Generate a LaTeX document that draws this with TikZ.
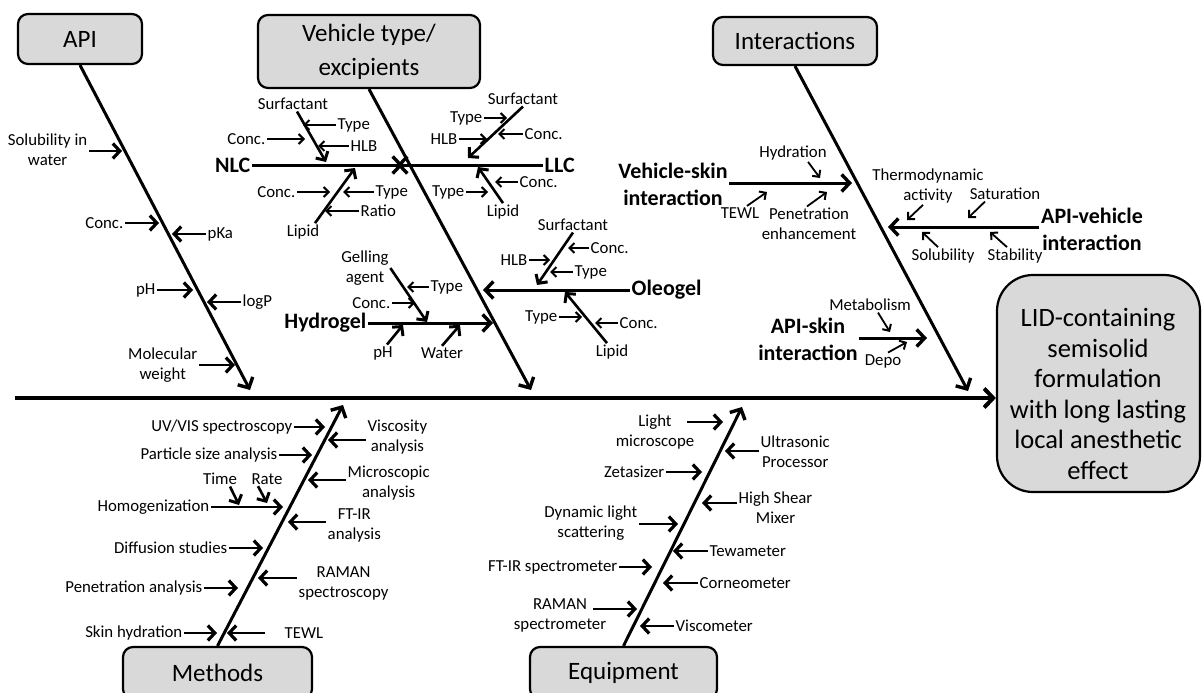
\documentclass[tikz,border=0pt]{standalone}
\usepackage{fontspec}
\setmainfont{Carlito}
\usetikzlibrary{arrows.meta}
\definecolor{boxgray}{RGB}{217,217,217}
\tikzset{
  box/.style={draw,line width=2.2pt,fill=boxgray,rounded corners=10pt,align=center,font=\fontsize{25}{30}\selectfont},
  lab/.style={inner sep=1.5pt,align=center,font=\fontsize{16.8}{20}\selectfont},
  blab/.style={inner sep=1.5pt,align=center,font=\fontsize{22}{27}\selectfont\bfseries},
  spine/.style={line width=4pt,-{Straight Barb[length=9pt,width=19pt,line width=4pt]}},
  bone/.style={line width=3pt,-{Straight Barb[length=8pt,width=17pt,line width=3.4pt]}},
  sbone/.style={line width=2.6pt,-{Straight Barb[length=6.5pt,width=14pt,line width=3pt]}},
  sarr/.style={line width=2.8pt,-{Straight Barb[length=7pt,width=15pt,line width=3.2pt]}},
  tarr/.style={line width=1.8pt,-{Straight Barb[length=5pt,width=10pt,line width=2pt]}},
}
\begin{document}
\begin{tikzpicture}[x=1pt,y=-1pt]
  \useasboundingbox (0,0) rectangle (1203,693);
  \clip (0,0) rectangle (1203,693);
  \node[box,minimum width=124pt,minimum height=50pt] (api) at (80,39) {API};
  \node[box,minimum width=222pt,minimum height=73pt,font=\fontsize{25}{34}\selectfont] (veh) at (369,51.5) {Vehicle type/\\excipients};
  \node[box,minimum width=164pt,minimum height=48pt] (inter) at (795,41) {Interactions};
  \node[box,minimum width=189pt,minimum height=52pt] (meth) at (217.5,673) {Methods};
  \node[box,minimum width=187pt,minimum height=52pt] (equip) at (623.5,673) {Equipment};
  \node[box,minimum width=203pt,minimum height=217pt,rounded corners=36pt] (lid) at (1098.5,383.5) {};
  \node[font=\fontsize{26.5}{30.5}\selectfont,align=center] (lidt) at (1098,394) {LID-containing\\semisolid\\formulation\\with long lasting\\local anesthetic\\effect};
  \coordinate (s0) at (15,398);
  \draw[spine] (s0) -- (s0 -| lid.west);
  \coordinate (apiE) at (250,390);
  \coordinate (vehE) at (531,390);
  \coordinate (intE) at (968,391);
  \coordinate (methE) at (343,405);
  \coordinate (equipE) at (742,407);
  \draw[bone] (api.south) -- (apiE);
  \draw[bone] (veh.south) -- (vehE);
  \draw[bone] (inter.south) -- (intE);
  \draw[bone] (meth.north) -- (methE);
  \draw[bone] (equip.north) -- (equipE);

  \node[blab,anchor=east] (nlc) at (252,165) {NLC};
  \node[blab,anchor=west] (llc) at (543,165) {LLC};
  \coordinate (vx) at (400,165);
  \draw[bone] (nlc.east) -- ([xshift=3pt]vx);
  \draw[bone] (llc.west) -- ([xshift=-3pt]vx);
  \node[blab,anchor=east] (hyg) at (368,323) {Hydrogel};
  \draw[bone] (hyg.east) -- (493,323);
  \node[blab,anchor=west] (ole) at (630,290) {Oleogel};
  \draw[bone] (ole.west) -- (483,290);

  \node[lab] (nsurf) at (293,104) {Surfactant};
  \draw[sbone] ([xshift=4pt]nsurf.south) -- (326,162);
  \node[lab] (nlip) at (303,232) {Lipid};
  \draw[sbone] ([xshift=12pt]nlip.north) -- (355,168);
  \node[lab] (lsurf) at (523,99) {Surfactant};
  \draw[sbone] (lsurf.south) -- (468,158);
  \node[lab] (llip) at (503,212) {Lipid};
  \draw[sbone] (llip.north) -- (478,167);
  \node[lab] (gel) at (365,268) {Gelling\\agent};
  \draw[sbone] (gel.east) -- (427,322);
  \node[lab] (hph) at (383,353) {pH};
  \draw[sbone] ([xshift=4pt]hph.north) -- (403,325);
  \node[lab] (hwat) at (442,353) {Water};
  \draw[sbone] (hwat.north) -- (460,325);
  \node[lab] (osurf) at (573,225) {Surfactant};
  \draw[sbone] (osurf.south) -- (537,285);
  \node[lab] (olip) at (612,352) {Lipid};
  \draw[sbone] ([xshift=-5pt]olip.north) -- (565,292);

  \foreach \n/\x/\y/\lb/\e in {nsc/267/139/Conc./305, nlcc/297/192/Conc./330, lst/484/118/Type/507,
      lsh/459/139/HLB/487, llt/466/192/Type/488, hgc/392/303/Conc./415, osh/529/260/HLB/550, olt/559/317/Type/582}
  {\node[lab,anchor=east] (\n) at (\x,\y) {\lb};
   \draw[tarr] (\n.east) -- (\e,\y);}
  \foreach \n/\x/\y/\lb/\e in {nst/336/125/Type/303, nsh/349/146/HLB/318, nlt/374/192/Type/343, nlr/359/211/Ratio/325,
      lsc/523/134/Conc./498, llcc/518/182/Conc./495, hgt/429/287/Type/407, osc/589/248/Conc./568,
      ost/573/272/Type/550, olc/618/323/Conc./595}
  {\node[lab,anchor=west] (\n) at (\x,\y) {\lb};
   \draw[tarr] (\n.west) -- (\e,\y);}

  \foreach \n/\x/\y/\lb/\e/\a in {asol/89/150/{Solubility in\\water}/122/151, aconc/125/223/Conc./159/223,
      aph/157/290/pH/193/290, amw/199/365/{Molecular\\weight}/235/365,
      muv/294/427/{UV/VIS spectroscopy}/325/427, mpsa/279/455/{Particle size analysis}/312/455,
      mhom/211/507/Homogenization/283/507, mdif/229/548/{Diffusion studies}/263/548,
      mpen/204/588/{Penetration analysis}/238/588, mskin/184/633/{Skin hydration}/217/633,
      ezet/666/472/Zetasizer/702/472, edls/639/523/{Dynamic light\\scattering}/678/524,
      eftir/619/567/{FT-IR spectrometer}/652/567}
  {\node[lab,anchor=east] (\n) at (\x,\y) {\lb};
   \draw[sarr] (\n.east |- 0,\a) -- (\e,\a);}
  \foreach \n/\x/\y/\lb/\e/\a in {apka/206/234/pKa/172/234, alogp/241/302/logP/207/302,
      mvisc/366/437/{Viscosity\\analysis}/328/440, mmic/346/483/{Microscopic\\analysis}/308/480,
      mftir/326/525/{FT-IR\\analysis}/288/522, mram/297/583/{RAMAN\\spectroscopy}/258/578,
      eult/759/452/{Ultrasonic\\Processor}/725/451, ehsm/737/508/{High Shear\\Mixer}/702/503,
      etew/708/551/Tewameter/673/551, ecor/698/583/Corneometer/663/583, evis/674/626/Viscometer/640/626}
  {\node[lab,anchor=west] (\n) at (\x,\y) {\lb};
   \draw[sarr] (\n.west |- 0,\a) -- (\e,\a);}

  \node[lab] (mtime) at (220,479) {Time};
  \node[lab] (mrate) at (267,479) {Rate};
  \draw[sbone] ([xshift=10pt]mtime.south) -- (239,505);
  \draw[sbone] ([xshift=-9pt]mrate.south) -- (267,503);
  \node[lab,anchor=west] (mtewl) at (283,633) {TEWL};
  \draw[sarr] ([xshift=-18pt]mtewl.west) -- (227,633);
  \node[lab] (elm) at (655,432) {Light\\microscope};
  \draw[sarr] (elm.center) ++(32,-10) -- (723,422);
  \node[lab] (eram) at (560,615) {RAMAN\\spectrometer};
  \draw[sarr] (eram.center) ++(33,-6) -- (637,609);

  \node[blab] (vsk) at (673,184) {Vehicle-skin\\interaction};
  \draw[bone] (vsk.east |- 0,183) -- (852,183);
  \node[lab] (hydr) at (793,153) {Hydration};
  \draw[tarr] ([xshift=15pt]hydr.south) -- (820,178);
  \node[lab] (vtewl) at (740,213) {TEWL};
  \draw[tarr] ([xshift=7pt]vtewl.north) -- (767,192);
  \node[lab] (vpen) at (809,224) {Penetration\\enhancement};
  \draw[tarr] ([xshift=-2pt]vpen.north) -- (827,192);
  \node[blab] (apv) at (1092,229) {API-vehicle\\interaction};
  \draw[bone] (apv.west |- 0,227) -- (888,227);
  \node[lab] (thermo) at (928,186) {Thermodynamic\\activity};
  \draw[tarr] ([xshift=-5pt]thermo.south) -- (907,220);
  \node[lab] (satur) at (1005,194) {Saturation};
  \draw[tarr] ([xshift=-20pt]satur.south) -- (968,218);
  \node[lab] (solub) at (943,256) {Solubility};
  \draw[tarr] ([xshift=-5pt]solub.north) -- (922,232);
  \node[lab] (stab) at (1015,256) {Stability};
  \draw[tarr] ([xshift=-8pt]stab.north) -- (990,232);
  \node[blab] (aps) at (808,339) {API-skin\\interaction};
  \draw[bone] (aps.east |- 0,338) -- (927,338);
  \node[lab] (metab) at (870,305) {Metabolism};
  \draw[tarr] ([xshift=8pt]metab.south) -- (890,332);
  \node[lab] (depo) at (883,361) {Depo};
  \draw[tarr] ([xshift=5pt]depo.north) -- (907,342);
\end{tikzpicture}
\end{document}
